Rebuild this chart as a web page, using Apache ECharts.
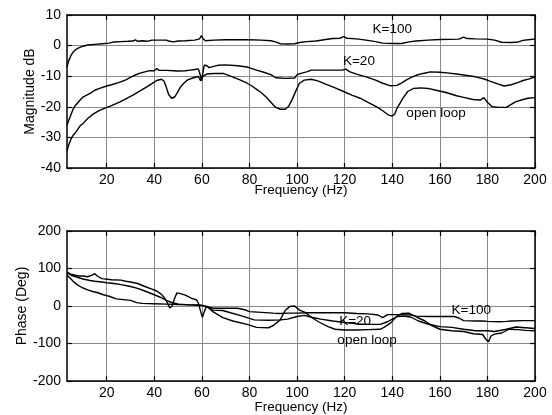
<!DOCTYPE html>
<html><head><meta charset="utf-8">
<script src="https://cdn.jsdelivr.net/npm/echarts@6/dist/echarts.min.js"></script>
<style>html,body{margin:0;padding:0;background:#fff}#c{width:552px;height:415px}</style>
</head><body><div id="c"></div>
<script>
const freqTicks = [20,40,60,80,100,120,140,160,180,200];
const magTitle = 'Magnitude dB';
const phaseTitle = 'Phase (Deg)';
const xTitle = 'Frequency (Hz)';

// Magnitude, K=100
const magK100Freq = [3.3,4,5,6,7,8,10,12,15,18,21,23,26,29,31,32,33,35,37,39,42,45,46,48,50,53,57,59,59.8,60.5,61.5,65,70,75,80,85,89,91,93,96,99,101,104,108,112,115,118,119.5,121,125,129,133,136,140,144,147,150,155,160,168,170,171.5,175,180,183,186,190,193,195,198,200];
const magK100 = [-7.0,-5.0,-3.2,-2.0,-1.3,-0.8,-0.2,0.2,0.4,0.6,0.8,1.2,1.3,1.4,1.5,1.9,1.4,1.6,1.4,1.8,1.8,1.8,1.5,1.2,1.5,1.6,1.8,2.2,3.3,2.2,1.6,1.8,1.9,1.9,1.9,1.8,1.6,1.2,0.6,0.5,0.6,1.0,1.3,1.5,2.0,2.3,2.4,2.9,2.4,2.2,1.8,1.3,0.8,0.7,0.7,1.2,1.5,1.8,2.0,2.1,2.8,2.3,2.2,2.1,1.8,1.1,1.0,1.2,1.7,2.0,2.1];

// Magnitude, K=20
const magK20Freq = [3.3,4,5,6,7,8.8,10,13,15,17,20,22,25,28,30,32,34,36,38,40,41,42,45,48,50,53,55,57,58.5,59.3,59.8,60.5,61,62,63,65,67,70,75,79,81,83,86,89,91,95,99,100,102,104,106,110,115,119,120.5,122,125,129,133,136,139,142,144,146,148,150,153,156,160,163,167,170,175,179,181,184,187,190,193,195,198,200];
const magK20 = [-26,-24.5,-22.5,-20.5,-19.4,-17.8,-16.8,-15.6,-14.6,-14.0,-13.2,-12.8,-12.1,-11.2,-10.4,-9.6,-9.0,-8.6,-8.2,-8.2,-7.5,-8.1,-8.1,-8.2,-8.3,-8.2,-8.0,-7.8,-7.6,-9.5,-11.5,-8.5,-6.4,-6.5,-7.2,-6.8,-6.4,-6.3,-6.6,-7.0,-7.5,-8.0,-8.7,-9.5,-10.5,-10.7,-10.6,-9.5,-9.0,-8.6,-8.0,-8.0,-8.0,-8.0,-7.7,-8.5,-9.3,-10.2,-11.3,-12.3,-13.1,-13.0,-12.2,-11.2,-10.4,-9.7,-9.1,-8.6,-8.7,-8.9,-9.3,-9.6,-10.2,-11.0,-11.6,-12.4,-13.2,-12.8,-12.0,-11.4,-10.8,-10.2];

// Magnitude, open loop
const magOpenFreq = [3.3,4,5,6,7,8.8,10,12,14.4,17,20,22,25.6,28,31,34,37,39,41,43,44,45,46,47.3,48.5,49.5,51,52.5,54,56.4,58.5,59.5,60.5,62,65,69,72,76,79,81,83,85,87,89,91,93,95,96.5,98,99.5,101,103,106,109,112,116,119.5,123,126.5,130,133.5,136,138.4,140,141,142,144.7,146.5,149,152,155,158,163,167,170,174,177,178.5,180,182,185,188,190,192,195,197,200];
const magOpen = [-34.5,-32.5,-30.5,-29.2,-28.3,-26.2,-25.5,-23.8,-22.3,-21.2,-20.2,-19.6,-18.4,-17.4,-16.2,-14.8,-13.4,-12.4,-11.4,-11.0,-11.5,-13.5,-16.0,-17.2,-16.8,-15.6,-13.5,-12.2,-11.2,-10.5,-10.1,-11.5,-10.0,-9.3,-9.1,-9.1,-10.0,-11.2,-12.3,-13.2,-14.3,-15.4,-16.8,-18.5,-20.2,-20.8,-20.8,-19.8,-17.5,-14.8,-12.3,-11.3,-11.0,-11.6,-12.6,-13.8,-15.0,-16.2,-17.2,-18.6,-20.0,-21.3,-22.7,-23.0,-22.4,-20.5,-16.9,-15.0,-14.0,-13.8,-14.0,-14.5,-15.4,-16.4,-16.9,-17.6,-17.8,-17.0,-18.5,-20.0,-20.2,-20.2,-19.2,-18.3,-17.6,-17.2,-17.0];

// Phase, K=100
const phK100Freq = [3.3,5,6,8,10,12,14.4,16,18.6,21,24,27,30,32.6,35,40,45,50,55,58,60,62,65,70,75,78,80,85,90,93,96,100,105,110,115,120,125,130,134,136,138,142,148,150,155,160,166,168,170,175,178,180,185,188,190,195,200];
const phK100 = [82,72,65,55,48,43,38,36,30,26,19,17,15,9,7,6,5,4,3,3,2,-2,-6,-6,-6,-10,-15,-17,-19,-20,-19,-19,-18,-18,-18,-18,-20,-21,-24,-31,-23,-23,-24,-27,-28,-28,-28,-32,-39,-40,-40,-41,-42,-41,-40,-39,-39];

// Phase, K=20
const phK20Freq = [3.3,5,8,10,13,15,18,20,23,26,30,33,36,40,43,45,47,50,55,58,60,62,64.6,68.8,72,76,79,82,88,93,96,100,103,106,110,115,120,126,130,135,138,140,142,145,148,151,155,160,165,170,175,180,183,188,192,196,200];
const phK20 = [88,82,76,72,68,66,64,62,60,57,52,47,40,30,22,15,10,5,3,2,1,-2,-11,-12,-18,-25,-31,-37,-38,-37,-35,-28,-25,-30,-35,-40,-44,-48,-49,-49,-42,-35,-28,-27,-30,-40,-48,-55,-57,-62,-66,-66,-68,-62,-56,-58,-60];

// Phase, open loop
const phOpenFreq = [3.3,5,8,10,12,14,15,16,18,22,26,28,30,33,36,39,41,43,44.5,45.5,46.5,47.5,48.5,49.5,51,53,55.5,57.8,58.5,59.5,60.2,61,62,64.6,68.8,73,79,83,88,90,92.9,95,97,99,101,103.4,106,109,113,116,120,125,130,135,136.5,139.4,142,144,147,150.4,153.8,156,160,165,170,174,178,179.5,180.5,181.5,183,186,189,193,196,200];
const phOpen = [90,85,80,80,78,83,86,80,73,70,69,66,64,60,52,45,40,31,20,8,-5,0,20,35,33,29,21,16,8,-15,-30,-15,0,-15,-31,-40,-49,-57,-58,-52,-37,-12,-1,0,-11,-17,-30,-42,-55,-62,-64,-64,-63,-62,-57,-45,-27,-20,-19,-30,-40,-50,-62,-66,-68,-74,-76,-90,-95,-80,-75,-72,-62,-63,-65,-66];

// Curve annotations: [label, freq, value]
const magNotes = [['K=100',140,5.4],['K=20',126,-5.0],['open loop',158.4,-22.0]];
const phNotes = [['K=100',173.2,-10.7],['K=20',124.4,-41.8],['open loop',129.4,-91]];

const FONT = "'Liberation Sans', Arial, Helvetica, sans-serif";
const pairs = (f, v) => f.map((x, i) => [x, v[i]]);

function xAxes(grid, gap) {
  const base = {
    type: 'value', gridIndex: grid, min: 3.3, max: 200,
    axisLine: {show: true, onZero: false, lineStyle: {color: '#000', width: 1.5}},
    axisTick: {show: true, inside: true, length: 5, customValues: freqTicks, lineStyle: {color: '#000', width: 1.2}},
  };
  return [
    Object.assign({}, base, {
      position: 'bottom',
      axisLabel: {show: true, customValues: freqTicks, color: '#000', fontSize: 14, fontFamily: FONT, margin: 5},
      splitLine: {show: true, lineStyle: {color: '#8a8a8a', width: 1}},
      name: xTitle, nameLocation: 'middle', nameGap: gap, nameMoveOverlap: false,
      nameTextStyle: {color: '#000', fontSize: 13.5, fontFamily: FONT}
    }),
    Object.assign({}, base, {
      position: 'top', axisLabel: {show: false}, splitLine: {show: false}
    })
  ];
}
function yAxes(grid, min, max, interval, name, gap) {
  const base = {
    type: 'value', gridIndex: grid, min: min, max: max, interval: interval,
    axisLine: {show: true, onZero: false, lineStyle: {color: '#000', width: 1.5}},
    axisTick: {show: true, inside: true, length: 5, lineStyle: {color: '#000', width: 1.2}},
  };
  return [
    Object.assign({}, base, {
      position: 'left',
      axisLabel: {show: true, color: '#000', fontSize: 14, fontFamily: FONT, margin: 6},
      splitLine: {show: true, lineStyle: {color: '#8a8a8a', width: 1}},
      name: name, nameLocation: 'middle', nameGap: gap, nameRotate: 90, nameMoveOverlap: false,
      nameTextStyle: {color: '#000', fontSize: 14, fontFamily: FONT}
    }),
    Object.assign({}, base, {
      position: 'right', axisLabel: {show: false}, splitLine: {show: false}
    })
  ];
}
function line(data, xi, yi, notes) {
  const s = {
    type: 'line', data: data, xAxisIndex: xi, yAxisIndex: yi,
    showSymbol: false, symbol: 'none', smooth: false,
    lineStyle: {color: '#000', width: 1.4}, itemStyle: {color: '#000'},
    animation: false, silent: true
  };
  if (notes) {
    s.markPoint = {
      symbol: 'rect', symbolSize: [1, 1], itemStyle: {color: 'rgba(0,0,0,0)'},
      label: {show: true, position: 'inside', color: '#000', fontSize: 13.5, fontFamily: FONT,
              formatter: p => p.name},
      data: notes.map(n => ({name: n[0], coord: [n[1], n[2]]})),
      animation: false, silent: true
    };
  }
  return s;
}

const chart = echarts.init(document.getElementById('c'), null, {renderer: 'canvas'});
chart.setOption({
  animation: false,
  backgroundColor: '#fff',
  grid: [
    {left: 67, top: 15, width: 468, height: 153},
    {left: 67, top: 231, width: 468, height: 154}
  ],
  xAxis: [...xAxes(0, 15), ...xAxes(1, 19)],
  yAxis: [...yAxes(0, -40, 10, 10, magTitle, 30), ...yAxes(1, -200, 200, 100, phaseTitle, 38)],
  series: [
    line(pairs(magK100Freq, magK100), 0, 0, magNotes),
    line(pairs(magK20Freq, magK20), 0, 0),
    line(pairs(magOpenFreq, magOpen), 0, 0),
    line(pairs(phK100Freq, phK100), 2, 2, phNotes),
    line(pairs(phK20Freq, phK20), 2, 2),
    line(pairs(phOpenFreq, phOpen), 2, 2)
  ]
});
</script>
</body></html>
